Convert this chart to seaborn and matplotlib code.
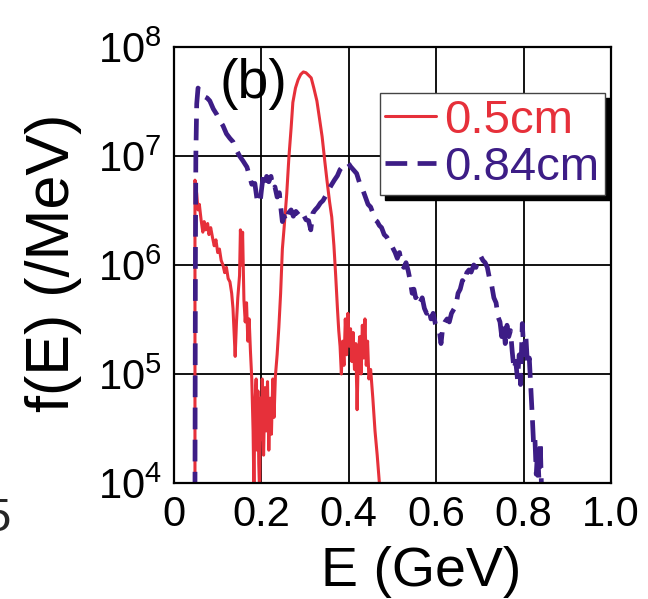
import numpy as np
import pandas as pd
import matplotlib
matplotlib.use("Agg")
import matplotlib.pyplot as plt
import seaborn as sns
from matplotlib.ticker import FixedLocator, NullLocator

# energy (GeV) and f(E) (/MeV)
red_label = "0.5cm"
red_e = [0.048, 0.048, 0.052, 0.055, 0.058, 0.062, 0.066, 0.069, 0.073, 0.077,
         0.080, 0.084, 0.088, 0.092, 0.096, 0.100, 0.104, 0.108, 0.112, 0.116,
         0.120, 0.124, 0.128, 0.132, 0.135, 0.138, 0.140, 0.143, 0.146, 0.150,
         0.152, 0.155, 0.157, 0.160, 0.163, 0.166, 0.169, 0.172, 0.175, 0.178,
         0.181, 0.183, 0.185, 0.188, 0.190, 0.192, 0.194, 0.196, 0.198, 0.200,
         0.202, 0.205, 0.208, 0.211, 0.214, 0.217, 0.220, 0.223, 0.226, 0.229,
         0.232, 0.236, 0.240, 0.244, 0.248, 0.252, 0.258, 0.263, 0.268, 0.272,
         0.278, 0.284, 0.290, 0.296, 0.302, 0.308, 0.314, 0.320, 0.327, 0.333,
         0.339, 0.345, 0.350, 0.356, 0.361, 0.366, 0.370, 0.374, 0.377, 0.380,
         0.383, 0.386, 0.389, 0.392, 0.395, 0.398, 0.401, 0.404, 0.407, 0.410,
         0.413, 0.416, 0.419, 0.422, 0.425, 0.428, 0.431, 0.434, 0.437, 0.440,
         0.443, 0.446, 0.450, 0.455, 0.460, 0.465, 0.470, 0.473]
red_f = [8.0e3, 6.0e6, 4.5e6, 3.2e6, 3.6e6, 2.6e6, 2.0e6, 2.5e6, 2.1e6, 2.4e6,
         1.9e6, 2.2e6, 1.8e6, 1.5e6, 1.7e6, 1.3e6, 1.4e6, 1.1e6, 1.0e6, 8.5e5,
         9.5e5, 7.5e5, 7.0e5, 5.5e5, 4.0e5, 2.2e5, 1.45e5, 3.0e5, 5.0e5, 8.0e5,
         2.1e6, 1.0e6, 2.0e6, 4.8e5, 3.0e5, 4.5e5, 2.0e5, 3.2e5, 1.6e5, 9.0e4,
         3.0e4, 8.0e3, 5.0e4, 9.0e4, 2.0e4, 7.0e4, 1.5e4, 8.0e3, 6.0e4, 2.5e4,
         9.0e4, 1.8e4, 7.5e4, 3.0e4, 8.5e4, 2.0e4, 6.0e4, 2.8e4, 9.0e4, 4.0e4,
         9.5e4, 1.5e5, 2.7e5, 5.5e5, 1.4e6, 2.2e6, 4.5e6, 9.8e6, 1.8e7, 3.1e7,
         4.2e7, 5.0e7, 5.6e7, 5.9e7, 5.8e7, 5.5e7, 5.2e7, 4.2e7, 3.2e7, 2.2e7,
         1.5e7, 9.0e6, 6.0e6, 3.8e6, 2.75e6, 1.5e6, 8.0e5, 4.0e5, 2.5e5, 1.8e5,
         1.0e5, 2.0e5, 1.2e5, 3.2e5, 1.5e5, 3.6e5, 1.8e5, 2.6e5, 1.3e5, 2.4e5,
         1.1e5, 1.9e5, 4.7e4, 1.6e5, 2.2e5, 1.0e5, 2.8e5, 1.4e5, 3.2e5, 1.2e5,
         2.0e5, 9.0e4, 1.1e5, 6.0e4, 3.0e4, 1.8e4, 1.0e4, 8.0e3]

blue_label = "0.84cm"
blue_e = [0.048, 0.049, 0.050, 0.052, 0.055, 0.062, 0.070, 0.076, 0.082, 0.090,
          0.098, 0.105, 0.112, 0.120, 0.128, 0.135, 0.142, 0.150, 0.158, 0.167,
          0.173, 0.178, 0.185, 0.190, 0.197, 0.200, 0.204, 0.208, 0.212, 0.217,
          0.222, 0.227, 0.231, 0.236, 0.241, 0.245, 0.248, 0.252, 0.257, 0.262,
          0.268, 0.273, 0.279, 0.285, 0.291, 0.296, 0.302, 0.308, 0.313, 0.318,
          0.323, 0.329, 0.335, 0.341, 0.347, 0.353, 0.360, 0.367, 0.374, 0.380,
          0.386, 0.392, 0.398, 0.404, 0.410, 0.418, 0.425, 0.432, 0.438, 0.444,
          0.450, 0.455, 0.460, 0.465, 0.470, 0.475, 0.481, 0.487, 0.494, 0.500,
          0.506, 0.511, 0.516, 0.521, 0.526, 0.531, 0.536, 0.541, 0.545, 0.549,
          0.553, 0.558, 0.563, 0.568, 0.573, 0.578, 0.583, 0.588, 0.593, 0.598,
          0.603, 0.607, 0.611, 0.615, 0.620, 0.625, 0.630, 0.635, 0.640, 0.645,
          0.650, 0.655, 0.660, 0.665, 0.670, 0.675, 0.680, 0.686, 0.691, 0.697,
          0.702, 0.707, 0.712, 0.717, 0.722, 0.727, 0.732, 0.737, 0.742, 0.746,
          0.750, 0.754, 0.758, 0.762, 0.766, 0.770, 0.774, 0.778, 0.782, 0.786,
          0.790, 0.793, 0.797, 0.801, 0.805, 0.809, 0.813, 0.817, 0.820, 0.823,
          0.826, 0.829, 0.832, 0.835, 0.838, 0.841]
blue_f = [8.0e3, 1.0e6, 1.0e7, 3.0e7, 4.2e7, 3.8e7, 3.5e7, 3.4e7, 3.2e7, 2.7e7,
          2.4e7, 2.1e7, 1.9e7, 1.6e7, 1.45e7, 1.35e7, 1.15e7, 1.0e7, 9.0e6, 7.9e6,
          6.5e6, 5.5e6, 5.6e6, 4.0e6, 3.7e6, 4.8e6, 6.5e6, 5.5e6, 6.5e6, 5.8e6,
          6.5e6, 5.0e6, 5.2e6, 4.2e6, 4.6e6, 3.2e6, 2.5e6, 2.8e6, 2.5e6, 3.0e6,
          3.2e6, 2.8e6, 3.1e6, 2.9e6, 2.7e6, 2.9e6, 2.6e6, 2.55e6, 2.1e6, 3.0e6,
          3.2e6, 3.4e6, 3.7e6, 3.9e6, 4.3e6, 4.8e6, 5.4e6, 6.0e6, 6.6e6, 7.5e6,
          8.0e6, 8.3e6, 8.7e6, 8.0e6, 7.5e6, 6.9e6, 5.6e6, 4.9e6, 4.2e6, 3.6e6,
          3.4e6, 3.0e6, 2.6e6, 2.5e6, 2.3e6, 2.2e6, 1.9e6, 1.8e6, 1.6e6, 1.45e6,
          1.3e6, 1.15e6, 1.3e6, 1.0e6, 9.5e5, 1.05e6, 8.8e5, 7.0e5, 5.5e5, 6.0e5,
          5.0e5, 5.3e5, 4.5e5, 5.0e5, 4.0e5, 3.6e5, 4.0e5, 3.2e5, 3.6e5, 2.9e5,
          2.6e5, 2.5e5, 1.9e5, 2.7e5, 3.0e5, 3.2e5, 3.0e5, 3.6e5, 3.9e5, 4.2e5,
          5.5e5, 6.0e5, 7.2e5, 6.8e5, 8.5e5, 9.0e5, 8.6e5, 1.0e6, 9.5e5, 1.15e6,
          1.2e6, 1.1e6, 1.05e6, 9.5e5, 7.5e5, 6.5e5, 5.0e5, 4.5e5, 3.3e5, 3.0e5,
          2.2e5, 2.8e5, 1.9e5, 2.8e5, 2.2e5, 2.5e5, 1.6e5, 1.1e5, 1.3e5, 9.0e4,
          1.5e5, 8.0e4, 2.9e5, 1.5e5, 2.3e5, 1.2e5, 1.4e5, 7.0e4, 4.0e4, 2.2e4,
          2.5e4, 1.2e4, 2.0e4, 1.1e4, 2.4e4, 9.0e3]

x_ticks = [0.0, 0.2, 0.4, 0.6, 0.8, 1.0]
x_tick_labels = ["0", "0.2", "0.4", "0.6", "0.8", "1.0"]
y_ticks = [1e4, 1e5, 1e6, 1e7, 1e8]

red_color = "#e6303a"
blue_color = "#3d1d86"

sns.set_theme(style="white")
plt.rcParams["font.family"] = ["Liberation Sans", "DejaVu Sans"]
plt.rcParams["mathtext.default"] = "regular"

red_df = pd.DataFrame({"E": red_e, "f": red_f})
blue_df = pd.DataFrame({"E": blue_e, "f": blue_f})

fig = plt.figure(figsize=(6.48, 5.99), dpi=100)
ax = fig.add_axes([0.2685, 0.1937, 0.6744, 0.7279])

sns.lineplot(data=red_df, x="E", y="f", ax=ax, color=red_color, lw=2.2,
             estimator=None, sort=False, label=red_label)
sns.lineplot(data=blue_df, x="E", y="f", ax=ax, color=blue_color, lw=3.4,
             estimator=None, sort=False, label=blue_label,
             linestyle=(0, (4.6, 2.2)))

ax.set_yscale("log")
ax.set_xlim(0, 1.0)
ax.set_ylim(1e4, 1e8)
ax.xaxis.set_major_locator(FixedLocator(x_ticks))
ax.set_xticklabels(x_tick_labels)
ax.yaxis.set_major_locator(FixedLocator(y_ticks))
ax.yaxis.set_minor_locator(NullLocator())

ax.grid(True, color="black", lw=1.3)
ax.set_axisbelow(True)
for s in ax.spines.values():
    s.set_color("black")
    s.set_linewidth(1.6)
ax.tick_params(axis="both", direction="in", length=0, labelsize=30,
               pad=9, colors="black")

ax.set_xlabel("E (GeV)", fontsize=40, color="black")
ax.set_ylabel("f(E) (/MeV)", fontsize=44, color="black")
ax.xaxis.set_label_coords(0.565, -0.145)
ax.yaxis.set_label_coords(-0.21, 0.505)

ax.text(0.105, 0.975, "(b)", transform=ax.transAxes, fontsize=40,
        ha="left", va="top", color="black")

leg = ax.legend(loc="upper left", bbox_to_anchor=(0.471, 0.894),
                borderaxespad=0, fontsize=34, handlelength=1.06,
                handletextpad=0.19, borderpad=0.12, labelspacing=0.06,
                labelcolor="linecolor", fancybox=False, framealpha=1,
                edgecolor="#444444",
                shadow={"ox": 3.5, "oy": -3.5, "color": "black", "alpha": 1})
leg.get_frame().set_linewidth(1.0)

# cut-off label of the neighbouring panel
fig.text(10 / 648, 1 - 519 / 599, "5", fontsize=34, ha="right", va="center")

fig.savefig("out.png", dpi=100)
